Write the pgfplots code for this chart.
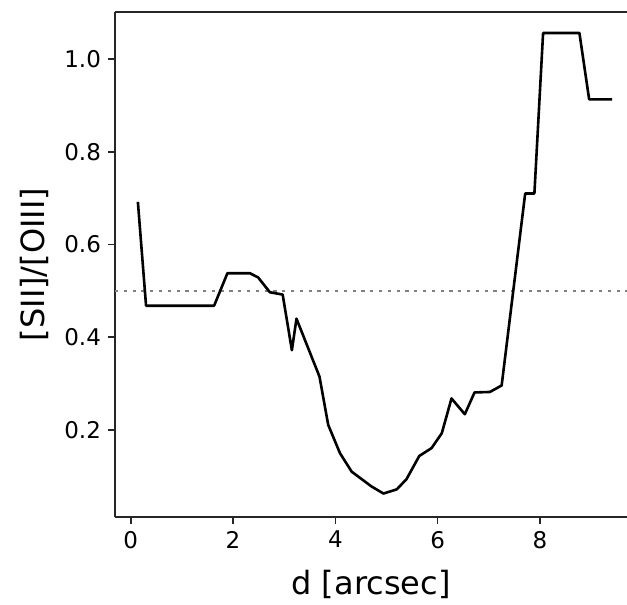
\documentclass[border=0pt]{standalone}
\usepackage{fontspec}
\setmainfont{DejaVu Sans}
\usepackage{pgfplots}
\pgfplotsset{compat=1.18}
\definecolor{refgray}{RGB}{128,128,128}

\begin{document}
\begin{tikzpicture}
\begin{axis}[
  scale only axis,
  width=256pt, height=252.5pt,
  xmin=-0.307, xmax=9.70,
  ymin=0.0124, ymax=1.1013,
  axis x line*=box, axis y line*=left,
  axis line style={-, draw=black!85, line width=0.8pt},
  tick align=outside,
  major tick length=3.5pt,
  tick style={draw=black!85, line width=0.8pt},
  xtick={0,2,4,6,8},
  ytick={0.2,0.4,0.6,0.8,1.0},
  xtick pos=bottom, ytick pos=left,
  /pgf/number format/assume math mode=true,
  tick label style={font=\fontsize{11.5}{13}\selectfont},
  yticklabel style={/pgf/number format/.cd, fixed, fixed zerofill, precision=1},
  xlabel={d [arcsec]},
  ylabel={[SII]/[OIII]},
  every axis x label/.style={at={(axis description cs:0.5,-0.133)}, anchor=center,
    font=\fontsize{16}{19}\selectfont},
  every axis y label/.style={at={(axis description cs:-0.158,0.5)}, anchor=center, rotate=90,
    font=\fontsize{16}{19}\selectfont},
  clip=false,
]
% reference level
\addplot[refgray, line width=1pt, dash pattern=on 1.6pt off 2.8pt]
  coordinates {(-0.307,0.5) (9.70,0.5)};
% line ratio profile
\addplot[black, line width=1.3pt, line join=round] coordinates {
(0.14,0.692) (0.30,0.468) (1.63,0.468) (1.89,0.538) (2.33,0.538)
(2.49,0.529) (2.72,0.497) (2.97,0.492) (3.15,0.372) (3.24,0.440)
(3.69,0.315) (3.86,0.211) (4.09,0.150) (4.32,0.110) (4.71,0.078)
(4.94,0.063) (5.20,0.072) (5.39,0.094) (5.64,0.144) (5.88,0.161)
(6.08,0.193) (6.27,0.268) (6.53,0.234) (6.72,0.281) (7.02,0.282)
(7.25,0.296) (7.71,0.710) (7.89,0.710) (8.06,1.056) (8.77,1.056)
(8.96,0.913) (9.41,0.913)
};
\coordinate (sw) at (rel axis cs:0,0);
\coordinate (ne) at (rel axis cs:1,1);
\end{axis}
\pgfresetboundingbox
\path ([xshift=-57.5pt,yshift=-43.5pt]sw) rectangle ([yshift=6pt]ne);
\end{tikzpicture}
\end{document}
